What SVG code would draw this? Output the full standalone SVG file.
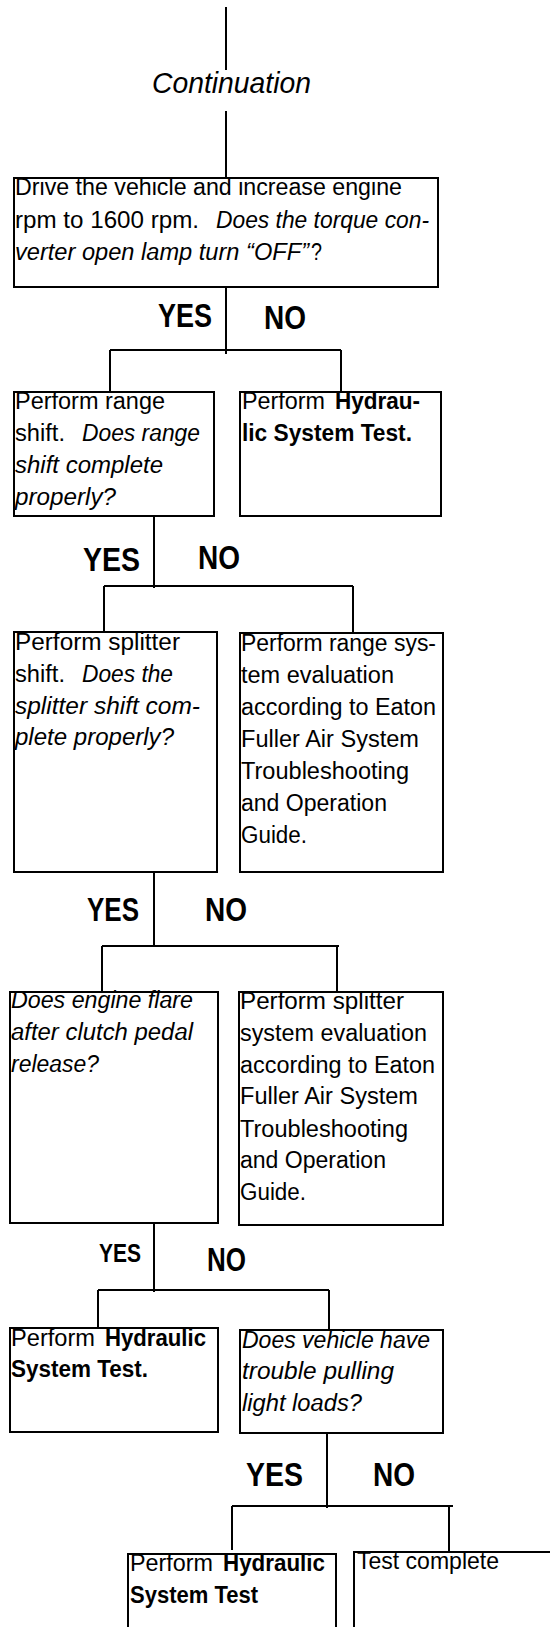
<svg xmlns="http://www.w3.org/2000/svg" width="550" height="1627" viewBox="0 0 550 1627">
<style>
.ln{stroke:#000;stroke-width:2;fill:none}
.box{fill:#fff;stroke:#000;stroke-width:2}
text{font-family:"Liberation Sans",Arial,sans-serif;fill:#000}
.t{font-size:23px}
.i{font-style:italic}
.b{font-weight:bold}
.yn{font-size:34px;font-weight:bold}
.ys{font-size:26px;font-weight:bold}
</style>
<rect width="550" height="1627" fill="#fff"/>
<g id="connectors">
<path class="ln" d="M226,7V70M226,111V178"/>
<path class="ln" d="M226,287V354M110,350H341M110,350V392M341,350V392"/>
<path class="ln" d="M154,516V588M104,586H353M104,586V632M353,586V633"/>
<path class="ln" d="M154,872V945M102,946H339M102,946V992M337,946V992"/>
<path class="ln" d="M154,1223V1292M98,1290H329M98,1290V1328M329,1290V1330"/>
<path class="ln" d="M327,1433V1508M232,1506H453M232,1506V1550M449,1506V1551"/>
</g>
<g id="labels">
<text class="i" x="152" y="93" font-size="30" textLength="159" lengthAdjust="spacingAndGlyphs">Continuation</text>
<text class="yn" x="158" y="327" textLength="54" lengthAdjust="spacingAndGlyphs">YES</text>
<text class="yn" x="264" y="329" textLength="42" lengthAdjust="spacingAndGlyphs">NO</text>
<text class="yn" x="83" y="571" textLength="57" lengthAdjust="spacingAndGlyphs">YES</text>
<text class="yn" x="198" y="569" textLength="42" lengthAdjust="spacingAndGlyphs">NO</text>
<text class="yn" x="87" y="921" textLength="52" lengthAdjust="spacingAndGlyphs">YES</text>
<text class="yn" x="205" y="921" textLength="42" lengthAdjust="spacingAndGlyphs">NO</text>
<text class="ys" x="99" y="1262" textLength="42" lengthAdjust="spacingAndGlyphs">YES</text>
<text class="yn" x="207" y="1271" textLength="39" lengthAdjust="spacingAndGlyphs">NO</text>
<text class="yn" x="246" y="1486" textLength="57" lengthAdjust="spacingAndGlyphs">YES</text>
<text class="yn" x="373" y="1486" textLength="42" lengthAdjust="spacingAndGlyphs">NO</text>
</g>
<g id="n1">
<rect class="box" x="14" y="178" width="424" height="109"/>
<text class="t" x="15" y="195" textLength="387" lengthAdjust="spacingAndGlyphs">Drive the vehicle and increase engine</text>
<text class="t" x="15" y="228" textLength="184" lengthAdjust="spacingAndGlyphs">rpm to 1600 rpm.</text>
<text class="t i" x="216" y="228" textLength="213" lengthAdjust="spacingAndGlyphs">Does the torque con-</text>
<text class="t i" x="15" y="260" textLength="294" lengthAdjust="spacingAndGlyphs">verter open lamp turn “OFF”</text>
<text class="t" x="311" y="260" textLength="11" lengthAdjust="spacingAndGlyphs">?</text>
</g>
<g id="n2">
<rect class="box" x="14" y="392" width="200" height="124"/>
<text class="t" x="15" y="409" textLength="150" lengthAdjust="spacingAndGlyphs">Perform range</text>
<text class="t" x="15" y="441" textLength="50" lengthAdjust="spacingAndGlyphs">shift.</text>
<text class="t i" x="82" y="441" textLength="118" lengthAdjust="spacingAndGlyphs">Does range</text>
<text class="t i" x="15" y="473" textLength="148" lengthAdjust="spacingAndGlyphs">shift complete</text>
<text class="t i" x="15" y="505" textLength="101" lengthAdjust="spacingAndGlyphs">properly?</text>
</g>
<g id="n3">
<rect class="box" x="240" y="392" width="201" height="124"/>
<text class="t" x="242" y="409" textLength="83" lengthAdjust="spacingAndGlyphs">Perform</text>
<text class="t b" x="335" y="409" textLength="85" lengthAdjust="spacingAndGlyphs">Hydrau-</text>
<text class="t b" x="242" y="441" textLength="170" lengthAdjust="spacingAndGlyphs">lic System Test.</text>
</g>
<g id="n4">
<rect class="box" x="14" y="632" width="203" height="240"/>
<text class="t" x="15" y="650" textLength="165" lengthAdjust="spacingAndGlyphs">Perform splitter</text>
<text class="t" x="15" y="682" textLength="50" lengthAdjust="spacingAndGlyphs">shift.</text>
<text class="t i" x="82" y="682" textLength="91" lengthAdjust="spacingAndGlyphs">Does the</text>
<text class="t i" x="15" y="714" textLength="185" lengthAdjust="spacingAndGlyphs">splitter shift com-</text>
<text class="t i" x="15" y="745" textLength="159" lengthAdjust="spacingAndGlyphs">plete properly?</text>
</g>
<g id="n5">
<rect class="box" x="240" y="633" width="203" height="239"/>
<text class="t" x="241" y="651" textLength="195" lengthAdjust="spacingAndGlyphs">Perform range sys-</text>
<text class="t" x="241" y="683" textLength="153" lengthAdjust="spacingAndGlyphs">tem evaluation</text>
<text class="t" x="241" y="715" textLength="195" lengthAdjust="spacingAndGlyphs">according to Eaton</text>
<text class="t" x="241" y="747" textLength="178" lengthAdjust="spacingAndGlyphs">Fuller Air System</text>
<text class="t" x="241" y="779" textLength="168" lengthAdjust="spacingAndGlyphs">Troubleshooting</text>
<text class="t" x="241" y="811" textLength="146" lengthAdjust="spacingAndGlyphs">and Operation</text>
<text class="t" x="241" y="843" textLength="66" lengthAdjust="spacingAndGlyphs">Guide.</text>
</g>
<g id="n6">
<rect class="box" x="10" y="992" width="208" height="231"/>
<text class="t i" x="11" y="1008" textLength="182" lengthAdjust="spacingAndGlyphs">Does engine flare</text>
<text class="t i" x="11" y="1040" textLength="182" lengthAdjust="spacingAndGlyphs">after clutch pedal</text>
<text class="t i" x="11" y="1072" textLength="88" lengthAdjust="spacingAndGlyphs">release?</text>
</g>
<g id="n7">
<rect class="box" x="239" y="992" width="204" height="233"/>
<text class="t" x="240" y="1009" textLength="164" lengthAdjust="spacingAndGlyphs">Perform splitter</text>
<text class="t" x="240" y="1041" textLength="187" lengthAdjust="spacingAndGlyphs">system evaluation</text>
<text class="t" x="240" y="1073" textLength="195" lengthAdjust="spacingAndGlyphs">according to Eaton</text>
<text class="t" x="240" y="1104" textLength="178" lengthAdjust="spacingAndGlyphs">Fuller Air System</text>
<text class="t" x="240" y="1137" textLength="168" lengthAdjust="spacingAndGlyphs">Troubleshooting</text>
<text class="t" x="240" y="1168" textLength="146" lengthAdjust="spacingAndGlyphs">and Operation</text>
<text class="t" x="240" y="1200" textLength="66" lengthAdjust="spacingAndGlyphs">Guide.</text>
</g>
<g id="n8">
<rect class="box" x="10" y="1328" width="208" height="104"/>
<text class="t" x="11" y="1346" textLength="84" lengthAdjust="spacingAndGlyphs">Perform</text>
<text class="t b" x="105" y="1346" textLength="101" lengthAdjust="spacingAndGlyphs">Hydraulic</text>
<text class="t b" x="11" y="1377" textLength="137" lengthAdjust="spacingAndGlyphs">System Test.</text>
</g>
<g id="n9">
<rect class="box" x="240" y="1330" width="203" height="103"/>
<text class="t i" x="242" y="1348" textLength="188" lengthAdjust="spacingAndGlyphs">Does vehicle have</text>
<text class="t i" x="242" y="1379" textLength="152" lengthAdjust="spacingAndGlyphs">trouble pulling</text>
<text class="t i" x="242" y="1411" textLength="120" lengthAdjust="spacingAndGlyphs">light loads?</text>
</g>
<g id="n10">
<rect class="box" x="128" y="1554" width="208" height="100"/>
<text class="t" x="130" y="1571" textLength="83" lengthAdjust="spacingAndGlyphs">Perform</text>
<text class="t b" x="223" y="1571" textLength="102" lengthAdjust="spacingAndGlyphs">Hydraulic</text>
<text class="t b" x="130" y="1603" textLength="128" lengthAdjust="spacingAndGlyphs">System Test</text>
</g>
<g id="n11">
<rect class="box" x="354" y="1552" width="250" height="100"/>
<text class="t" x="357" y="1569" textLength="142" lengthAdjust="spacingAndGlyphs">Test complete</text>
</g>
</svg>
